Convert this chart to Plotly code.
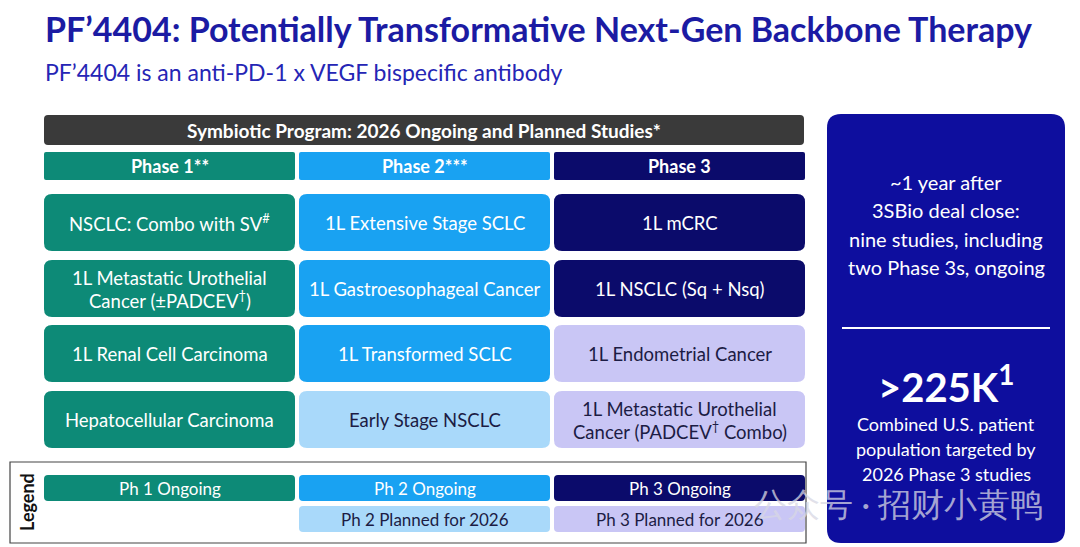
import plotly.graph_objects as go

# Dados do slide
title = "PF’4404: Potentially Transformative Next-Gen Backbone Therapy"
subtitle = "PF’4404 is an anti-PD-1 x VEGF bispecific antibody"
program = "Symbiotic Program: 2026 Ongoing and Planned Studies*"
phases = ["Phase 1**", "Phase 2***", "Phase 3"]
phase1_studies = ["NSCLC: Combo with SV<sup>#</sup>",
                  "1L Metastatic Urothelial<br>Cancer (±PADCEV<sup>†</sup>)",
                  "1L Renal Cell Carcinoma",
                  "Hepatocellular Carcinoma"]
phase2_studies = ["1L Extensive Stage SCLC", "1L Gastroesophageal Cancer",
                  "1L Transformed SCLC", "Early Stage NSCLC"]
phase3_studies = ["1L mCRC", "1L NSCLC (Sq + Nsq)", "1L Endometrial Cancer",
                  "1L Metastatic Urothelial<br>Cancer (PADCEV<sup>†</sup> Combo)"]
phase1_status = ["ongoing", "ongoing", "ongoing", "ongoing"]
phase2_status = ["ongoing", "ongoing", "ongoing", "planned"]
phase3_status = ["ongoing", "ongoing", "planned", "planned"]
legend_ongoing = ["Ph 1 Ongoing", "Ph 2 Ongoing", "Ph 3 Ongoing"]
legend_planned = [None, "Ph 2 Planned for 2026", "Ph 3 Planned for 2026"]
panel_top = "~1 year after<br>3SBio deal close:<br>nine studies, including<br>two Phase 3s, ongoing"
panel_big = ">225K<sup>1</sup>"
panel_bottom = "Combined U.S. patient<br>population targeted by<br>2026 Phase 3 studies"
watermark = "公众号 · 招财小黄鸭"

# Cores
ongoing_colors = ["#0d8a77", "#19a2f2", "#0b0b6b"]
planned_colors = ["#0d8a77", "#a9d9fa", "#c9c6f5"]
dark_text = "#1c1c44"
FONT = "Lato"

W, H = 1080, 547
OFF = 8  # margem do body da pagina
col_x = [44, 299, 554]
col_w = 251
row_y = [194, 260, 325, 391]
row_h = 57


def rrect(x0, y0, x1, y1, r):
    return (f"M {x0+r},{y0} L {x1-r},{y0} Q {x1},{y0} {x1},{y0+r} "
            f"L {x1},{y1-r} Q {x1},{y1} {x1-r},{y1} L {x0+r},{y1} "
            f"Q {x0},{y1} {x0},{y1-r} L {x0},{y0+r} Q {x0},{y0} {x0+r},{y0} Z")


fig = go.Figure()
shapes = []
annos = []


def box(x0, y0, x1, y1, r, color):
    shapes.append(dict(type="path", path=rrect(x0, y0, x1, y1, r), xref="x", yref="y",
                       fillcolor=color, line=dict(width=0), layer="below"))


def text(x, y, s, size, color, bold=False, **kw):
    annos.append(dict(x=x, y=y, xref="x", yref="y", text=f"<b>{s}</b>" if bold else s,
                      showarrow=False, font=dict(size=size, color=color, family=FONT), **kw))


def lines(x, yc, s, size, color, step, **kw):
    parts = s.split("<br>")
    y0 = yc - step * (len(parts) - 1) / 2
    for k, p in enumerate(parts):
        text(x, y0 + k * step, p, size, color, **kw)


# Titulo
text(43, 28, title, 34, "#1b1ba3", bold=True, xanchor="left")
text(43, 72, subtitle, 23, "#2525b5", xanchor="left")

# Barra do programa
box(44, 115, 804, 145, 4, "#3a3a3a")
text(424, 130, program, 19, "white", bold=True)

# Cabeçalhos das fases
for i, ph in enumerate(phases):
    box(col_x[i], 152, col_x[i] + col_w, 180, 2, ongoing_colors[i])
    text(col_x[i] + col_w / 2, 166, ph, 18, "white", bold=True)

# Células dos estudos
columns = [(phase1_studies, phase1_status), (phase2_studies, phase2_status),
           (phase3_studies, phase3_status)]
for i, (studies, status) in enumerate(columns):
    for j, (s, st) in enumerate(zip(studies, status)):
        c = ongoing_colors[i] if st == "ongoing" else planned_colors[i]
        tc = "white" if st == "ongoing" else dark_text
        box(col_x[i], row_y[j], col_x[i] + col_w, row_y[j] + row_h, 8, c)
        lines(col_x[i] + col_w / 2, row_y[j] + row_h / 2, s, 18.5, tc, 21)

# Legenda
shapes.append(dict(type="rect", x0=10, y0=462, x1=806, y1=543, xref="x", yref="y",
                   line=dict(color="#444444", width=1.2), fillcolor="white", layer="below"))
text(27, 502, "Legend", 18, "#111111", bold=True, textangle=-90)
for i in range(3):
    box(col_x[i], 475, col_x[i] + col_w, 501, 4, ongoing_colors[i])
    text(col_x[i] + col_w / 2, 488, legend_ongoing[i], 17, "white")
    if legend_planned[i]:
        box(col_x[i], 506, col_x[i] + col_w, 532, 4, planned_colors[i])
        text(col_x[i] + col_w / 2, 519, legend_planned[i], 17, dark_text)

# Painel da direita
box(827, 114, 1065, 543, 14, "#0e0e9e")
lines(946, 224.5, panel_top, 20, "white", 28.5)
shapes.append(dict(type="line", x0=842, x1=1050, y0=328, y1=328, xref="x", yref="y",
                   line=dict(color="white", width=2)))
text(946, 384, panel_big, 40, "white", bold=True)
lines(946, 449, panel_bottom, 18, "white", 25)

# Marca d'agua
text(898, 503, watermark, 33, "rgba(215,215,228,0.75)")

fig.update_layout(
    width=W, height=H,
    margin=dict(l=0, r=0, t=0, b=0),
    plot_bgcolor="white", paper_bgcolor="white",
    xaxis=dict(range=[OFF, W + OFF], visible=False, fixedrange=True),
    yaxis=dict(range=[H + OFF, OFF], visible=False, fixedrange=True),
    shapes=shapes, annotations=annos,
    showlegend=False,
)

fig.write_html("out.html")
